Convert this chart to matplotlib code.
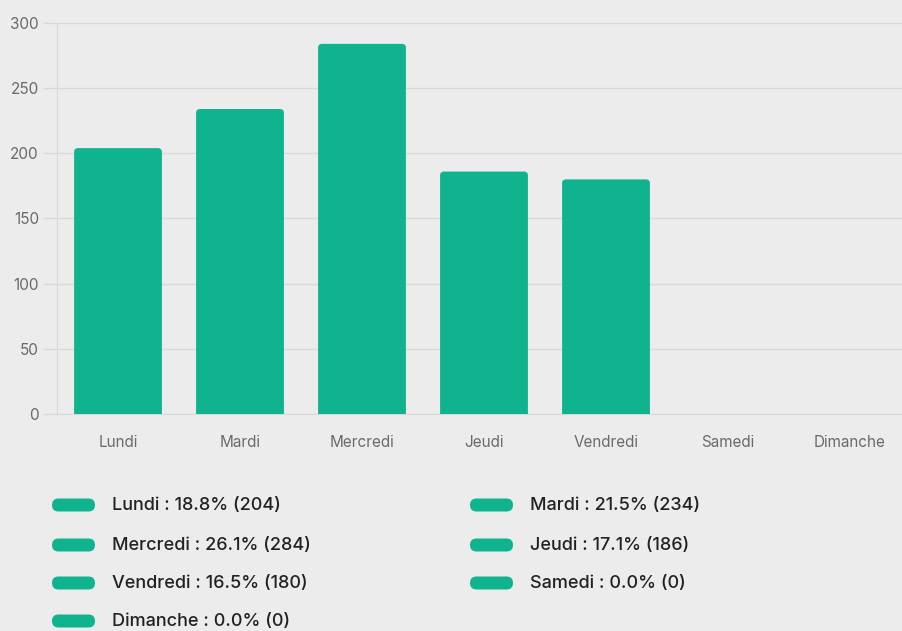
import matplotlib.pyplot as plt
from matplotlib.patches import FancyBboxPatch

jours = ['Lundi', 'Mardi', 'Mercredi', 'Jeudi', 'Vendredi', 'Samedi', 'Dimanche']
valeurs = [204, 234, 284, 186, 180, 0, 0]
pourcents = [18.8, 21.5, 26.1, 17.1, 16.5, 0.0, 0.0]

vert = '#0fb48e'
fond = '#ececec'
grille = '#d9d9d9'

plt.rcParams['font.family'] = ['Inter', 'DejaVu Sans']

fig = plt.figure(figsize=(9.02, 6.31), dpi=100, facecolor=fond)
# la zone du graphique dépasse un peu à droite, comme dans la capture
ax = fig.add_axes([57/902, 1 - 414/631, (911 - 57)/902, (414 - 23)/631])
ax.set_facecolor(fond)

ax.set_xlim(-0.5, len(jours) - 0.5)
ax.set_ylim(0, 300)

# barres avec coins arrondis en haut (le bas est coupé par l'axe)
largeur = 0.72
px_x = (911 - 57) / len(jours)
px_y = (414 - 23) / 300
for i, v in enumerate(valeurs):
    if v <= 0:
        continue
    r = 4 / px_x
    p = FancyBboxPatch((i - largeur/2, -10), largeur, v + 10,
                       boxstyle='round,pad=0,rounding_size=%f' % r,
                       mutation_aspect=(px_x / px_y),
                       facecolor=vert, edgecolor='none', zorder=3)
    ax.add_patch(p)

ax.set_yticks(range(0, 301, 50))
ax.yaxis.grid(True, color=grille, linewidth=1)
ax.set_axisbelow(True)
ax.set_xticks(range(len(jours)))
ax.set_xticklabels(jours)
ax.tick_params(axis='y', length=10, width=1, color=grille, pad=3,
               labelsize=11, labelcolor='#6a6a6a')
ax.tick_params(axis='x', length=0, pad=15, labelsize=11, labelcolor='#6a6a6a')
for s in ['top', 'right']:
    ax.spines[s].set_visible(False)
ax.spines['left'].set_color(grille)
ax.spines['bottom'].set_color(grille)

# légende en deux colonnes
col_x = [52, 470]
lig_y = [505, 545, 583, 621]
for k, (j, pc, v) in enumerate(zip(jours, pourcents, valeurs)):
    x0 = col_x[k % 2]
    y0 = lig_y[k // 2]
    pill = FancyBboxPatch((x0/902, (631 - y0 - 6.5)/631), 43/902, 13/631,
                          boxstyle='round,pad=0,rounding_size=%f' % (6.5/902),
                          mutation_aspect=902/631,
                          transform=fig.transFigure, facecolor=vert,
                          edgecolor='none')
    fig.patches.append(pill)
    fig.text((x0 + 60)/902, (631 - y0)/631, '%s : %.1f%% (%d)' % (j, pc, v),
             fontsize=13, fontweight='medium', color='#222222',
             va='center', ha='left')

fig.savefig('out.png', dpi=100, facecolor=fond)
